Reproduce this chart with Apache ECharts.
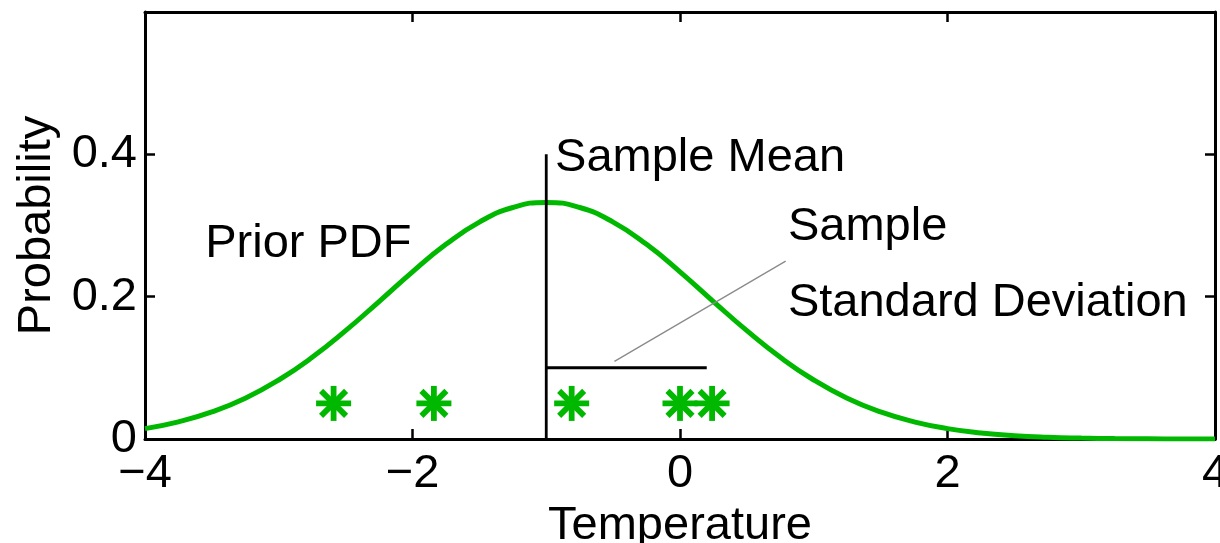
<!DOCTYPE html>
<html>
<head>
<meta charset="utf-8">
<title>Prior PDF and samples</title>
<script src="https://cdn.jsdelivr.net/npm/echarts@6/dist/echarts.min.js"></script>
<style>
  html, body { margin: 0; padding: 0; background: #fff; overflow: hidden; }
  #chart { width: 1220px; height: 543px; }
</style>
</head>
<body>
<div id="chart"></div>
<script>
// Prior density over temperature, sampled every 0.25
const temperature = [
  -4, -3.75, -3.5, -3.25, -3, -2.75, -2.5, -2.25, -2, -1.75, -1.5, -1.25, -1,
  -0.75, -0.5, -0.25, 0, 0.25, 0.5, 0.75, 1, 1.25, 1.5, 1.75, 2,
  2.25, 2.5, 2.75, 3, 3.25, 3.5, 3.75, 4
];
const priorPdf = [
  0.0146, 0.0241, 0.0380, 0.0573, 0.0829, 0.1148, 0.1522, 0.1932, 0.2349, 0.2735, 0.3048, 0.3253, 0.3324,
  0.3253, 0.3048, 0.2735, 0.2349, 0.1932, 0.1522, 0.1148, 0.0829, 0.0573, 0.0380, 0.0241, 0.0146,
  0.0085, 0.0047, 0.0025, 0.0013, 0.0006, 0.0003, 0.0001, 0.0001
];

// Observed samples (drawn as asterisks)
const sampleTemps = [-2.59, -1.84, -0.81, 0.0, 0.24];
const sampleProb = [0.05, 0.05, 0.05, 0.05, 0.05];

// Sample statistics
const sampleMean = -1.0;
const sampleSd = 1.2;
const meanLineTop = 0.4;
const sdLineLevel = 0.1;

// Axis ticks
const xTicks = [-4, -2, 0, 2, 4];
const yTicks = [0, 0.2, 0.4];

const GREEN = '#00b800';
const FONT = '"Liberation Sans", Arial, Helvetica, sans-serif';
const FS = 47;

const chart = echarts.init(document.getElementById('chart'), null, {
  renderer: 'canvas', width: 1220, height: 543
});

const fmtX = v => {
  const hit = xTicks.find(t => Math.abs(t - v) < 1e-6);
  if (hit === undefined) return '';
  return hit < 0 ? '\u2212' + Math.abs(hit) : String(hit);
};
const fmtY = v => {
  const hit = yTicks.find(t => Math.abs(t - v) < 1e-6);
  return hit === undefined ? '' : String(hit);
};

const axisLineStyle = { color: '#000', width: 3 };
const tickStyle = { show: true, inside: true, length: 10, lineStyle: { color: '#000', width: 2.5 } };
const labelStyle = { color: '#000', fontFamily: FONT, fontSize: FS };

function segment(points, color, width) {
  return {
    type: 'line',
    data: points,
    showSymbol: false,
    symbol: 'none',
    silent: true,
    animation: false,
    lineStyle: { color: color, width: width },
    z: 3
  };
}

const option = {
  animation: false,
  backgroundColor: '#fff',
  grid: {
    left: 145, right: 5, top: 12, bottom: 104,
    containLabel: false,
    outerBoundsMode: 'none'
  },
  xAxis: [
    {
      type: 'value', min: -4, max: 4, interval: 2, position: 'bottom',
      axisLine: { show: true, onZero: false, lineStyle: axisLineStyle },
      axisTick: tickStyle,
      axisLabel: Object.assign({ margin: 12, formatter: fmtX, showMinLabel: true, showMaxLabel: true }, labelStyle),
      splitLine: { show: false },
      name: 'Temperature', nameLocation: 'middle', nameGap: 50,
      nameTextStyle: labelStyle
    },
    {
      type: 'value', min: -4, max: 4, interval: 2, position: 'top',
      axisLine: { show: true, onZero: false, lineStyle: axisLineStyle },
      axisTick: tickStyle,
      axisLabel: { show: false },
      splitLine: { show: false }
    }
  ],
  yAxis: [
    {
      type: 'value', min: 0, max: 0.6, interval: 0.2, position: 'left',
      axisLine: { show: true, onZero: false, lineStyle: axisLineStyle },
      axisTick: tickStyle,
      axisLabel: Object.assign({ margin: 8, formatter: fmtY }, labelStyle),
      splitLine: { show: false },
      name: 'Probability', nameLocation: 'middle', nameGap: 84, nameRotate: 90,
      nameTextStyle: labelStyle
    },
    {
      type: 'value', min: 0, max: 0.6, interval: 0.2, position: 'right',
      axisLine: { show: true, onZero: false, lineStyle: axisLineStyle },
      axisTick: tickStyle,
      axisLabel: { show: false },
      splitLine: { show: false }
    }
  ],
  series: [
    {
      name: 'Prior PDF',
      type: 'line',
      data: temperature.map((t, i) => [t, priorPdf[i]]),
      smooth: true,
      showSymbol: false,
      symbol: 'none',
      lineStyle: { color: GREEN, width: 5 },
      z: 2
    },
    // sample mean marker
    segment([[sampleMean, 0], [sampleMean, meanLineTop]], '#000', 2.8),
    // sample standard deviation bar
    segment([[sampleMean, sdLineLevel], [sampleMean + sampleSd, sdLineLevel]], '#000', 3),
    // pointer from the "Standard Deviation" caption to the bar
    segment([[-0.49, 0.109], [0.79, 0.25]], '#8a8a8a', 1.3),
    {
      name: 'Samples',
      type: 'custom',
      data: sampleTemps.map((t, i) => [t, sampleProb[i]]),
      z: 4,
      renderItem: function (params, api) {
        const p = api.coord([api.value(0), api.value(1)]);
        const r = 17.5, d = 12.5;
        const style = { stroke: GREEN, lineWidth: 5.8, fill: null };
        const arms = [
          [p[0] - r, p[1], p[0] + r, p[1]],
          [p[0], p[1] - r, p[0], p[1] + r],
          [p[0] - d, p[1] - d, p[0] + d, p[1] + d],
          [p[0] - d, p[1] + d, p[0] + d, p[1] - d]
        ];
        return {
          type: 'group',
          children: arms.map(a => ({
            type: 'line',
            shape: { x1: a[0], y1: a[1], x2: a[2], y2: a[3] },
            style: style
          }))
        };
      }
    }
  ]
};

chart.setOption(option);

// Captions placed in data space
const captions = [
  { text: 'Sample Mean', at: [-0.934, 0.395] },
  { text: 'Prior PDF', at: [-3.55, 0.274] },
  { text: 'Sample', at: [0.807, 0.298] },
  { text: 'Standard Deviation', at: [0.807, 0.191] }
];

chart.setOption({
  graphic: captions.map(c => {
    const p = chart.convertToPixel({ xAxisIndex: 0, yAxisIndex: 0 }, c.at);
    return {
      type: 'text',
      x: p[0],
      y: p[1],
      z: 10,
      style: {
        text: c.text,
        fill: '#000',
        font: FS + 'px ' + FONT,
        textAlign: 'left',
        textVerticalAlign: 'middle'
      }
    };
  })
});
</script>
</body>
</html>
